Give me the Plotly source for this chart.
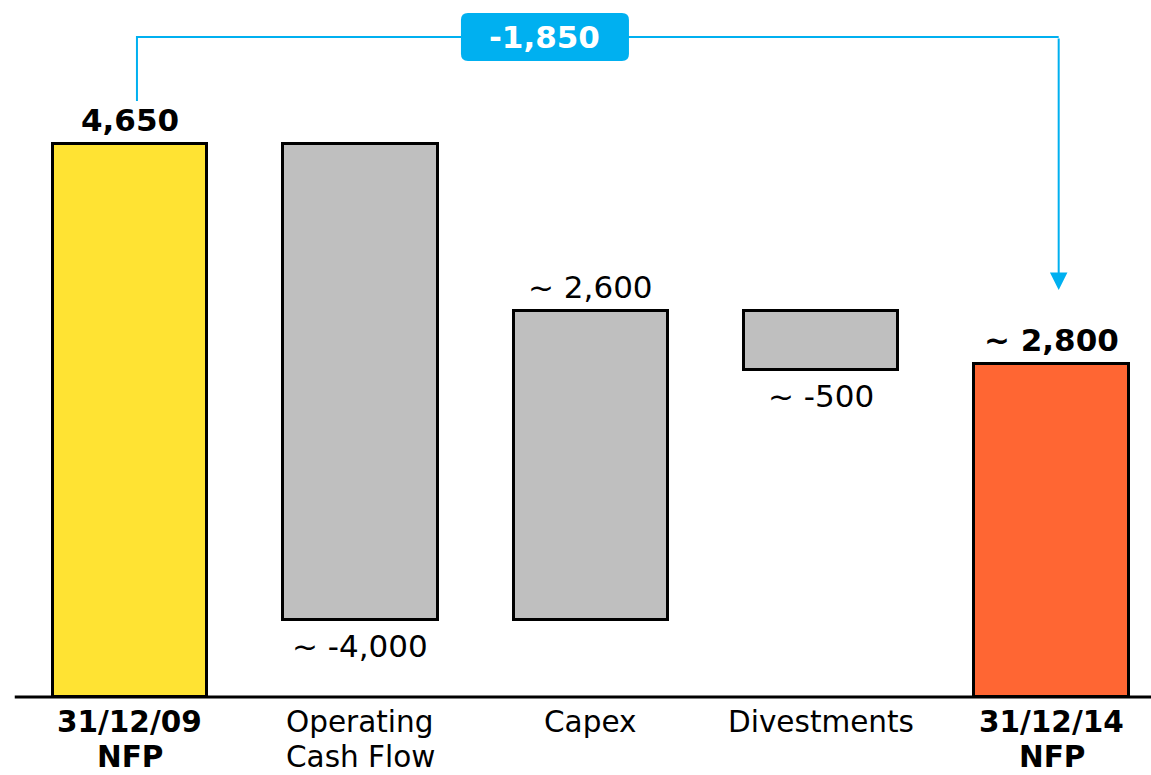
import plotly.graph_objects as go

# ---- data -------------------------------------------------------------
cat_line1 = ["31/12/09", "Operating", "Capex", "Divestments", "31/12/14"]
cat_line2 = ["NFP", "Cash Flow", "", "", "NFP"]
is_total = [True, False, False, False, True]
values = [4650, -4000, 2600, -500, 2800]
approx = [False, True, True, True, True]
bar_colors = ["#FFE333", "#BFBFBF", "#BFBFBF", "#BFBFBF", "#FF6633"]

# ---- layout constants -------------------------------------------------
W, H = 1151, 775
MB = 78                      # bottom margin (space for category labels)
Y_MAX = 5861
X_RANGE = [-0.564, 4.431]
PX_PER_UNIT = (H - MB) / Y_MAX
PX_PER_CAT = W / (X_RANGE[1] - X_RANGE[0])
FONT = "DejaVu Sans"
FS = 31
FS_CAT = 29.5
BLUE = "#00B0F0"


def px(n):
    """Convert a vertical pixel distance into y-axis units."""
    return n / PX_PER_UNIT


# waterfall bases
bases, heights = [], []
running = 0
for v, tot in zip(values, is_total):
    if tot:
        bases.append(0)
        running = v
    else:
        bases.append(running)
        running += v
    heights.append(v)

xs = list(range(len(values)))

fig = go.Figure()
fig.add_trace(go.Bar(
    x=xs, y=heights, base=bases, width=0.67,
    marker=dict(color=bar_colors, line=dict(color="#000000", width=3)),
    hoverinfo="skip", showlegend=False,
))

annotations = []
shapes = []

# value labels
for i, (v, b, tot, apx) in enumerate(zip(values, bases, is_total, approx)):
    txt = f"{v:,}"
    if apx:
        txt = "~ " + txt
    if tot:
        txt = f"<b>{txt}</b>"
    top = max(b, b + v)
    bottom = min(b, b + v)
    if v >= 0:
        y, shift = top, 24
    else:
        y, shift = bottom, -26
    annotations.append(dict(
        x=i, y=y, xref="x", yref="y", text=txt, showarrow=False,
        yanchor="middle", yshift=shift,
        font=dict(family=FONT, size=FS, color="#000000"),
    ))

# category labels (two lines each)
for i, (l1, l2, tot) in enumerate(zip(cat_line1, cat_line2, is_total)):
    for line, shift in ((l1, -25), (l2, -59.5)):
        if not line:
            continue
        annotations.append(dict(
            x=i, y=0, xref="x", yref="y",
            text=f"<b>{line}</b>" if tot else line,
            showarrow=False, yanchor="middle", yshift=shift, borderpad=0,
            font=dict(family=FONT, size=FS_CAT, color="#000000"),
        ))

# baseline
shapes.append(dict(type="line", xref="x", yref="paper", x0=-0.5, x1=4.5, y0=0, y1=0,
                   line=dict(color="#000000", width=3), layer="above"))

# bridge connector from the opening to the closing balance
start_val, end_val = values[0], values[-1]
delta = end_val - start_val
x_off = 7 / PX_PER_CAT
xl, xr = xs[0] + x_off, xs[-1] + x_off
y_bridge = px(660)
y_start = start_val + px(43)
y_tip = end_val + px(74)

fig.add_trace(go.Scatter(
    x=[xl, xl, xr], y=[y_start, y_bridge, y_bridge], mode="lines",
    line=dict(color=BLUE, width=2), hoverinfo="skip", showlegend=False,
))
annotations.append(dict(
    x=xr, y=y_tip, ax=xr, ay=y_bridge, xref="x", yref="y", axref="x", ayref="y",
    text="", showarrow=True, arrowhead=2, arrowsize=1.75, arrowwidth=2,
    arrowcolor=BLUE, standoff=0,
))

# rounded label box on the bridge
x_box = (545 - 130) / PX_PER_CAT
bw, bh, r = 84, 24, 7
box_path = (f"M {-bw + r},{-bh} L {bw - r},{-bh} Q {bw},{-bh} {bw},{-bh + r} "
            f"L {bw},{bh - r} Q {bw},{bh} {bw - r},{bh} L {-bw + r},{bh} "
            f"Q {-bw},{bh} {-bw},{bh - r} L {-bw},{-bh + r} Q {-bw},{-bh} {-bw + r},{-bh} Z")
shapes.append(dict(
    type="path", xref="x", yref="y", xsizemode="pixel", ysizemode="pixel",
    xanchor=x_box, yanchor=y_bridge, path=box_path,
    fillcolor=BLUE, line=dict(color=BLUE, width=0), layer="above",
))
annotations.append(dict(
    x=x_box, y=y_bridge, xref="x", yref="y", text=f"<b>{delta:,}</b>",
    showarrow=False, yanchor="middle",
    font=dict(family=FONT, size=FS, color="#FFFFFF"),
))

fig.update_layout(
    width=W, height=H,
    margin=dict(l=0, r=0, t=0, b=MB),
    paper_bgcolor="#FFFFFF", plot_bgcolor="#FFFFFF",
    xaxis=dict(range=X_RANGE, visible=False, fixedrange=True),
    yaxis=dict(range=[0, Y_MAX], visible=False, fixedrange=True),
    shapes=shapes, annotations=annotations,
    bargap=0,
)

fig.write_html("out.html")
